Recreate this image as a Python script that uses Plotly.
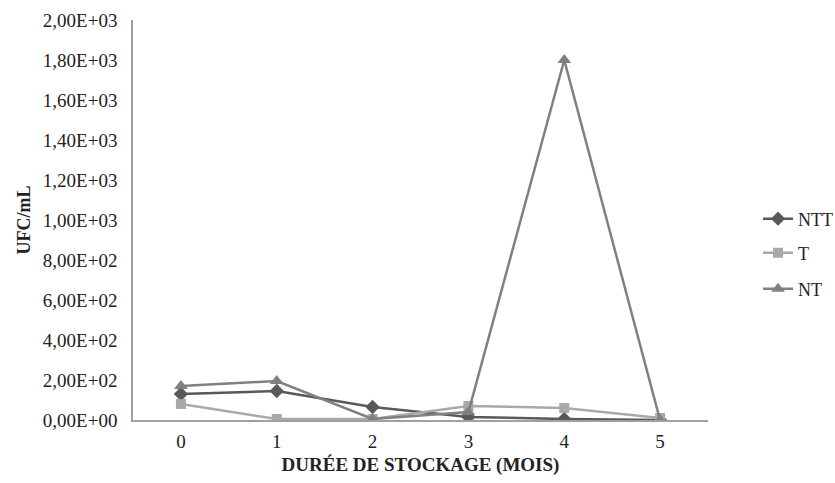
import plotly.graph_objects as go

# Storage duration (months) and counts per sample type
months = [0, 1, 2, 3, 4, 5]
ntt = [130, 145, 65, 15, 5, 0]
t_vals = [80, 5, 5, 70, 60, 10]
nt = [170, 195, 5, 40, 1800, 0]

y_ticks = [0, 200, 400, 600, 800, 1000, 1200, 1400, 1600, 1800, 2000]
y_tick_text = ["0,00E+00", "2,00E+02", "4,00E+02", "6,00E+02", "8,00E+02",
               "1,00E+03", "1,20E+03", "1,40E+03", "1,60E+03", "1,80E+03",
               "2,00E+03"]

FONT = "Liberation Serif"
TXT = "#222222"

fig = go.Figure()
fig.add_trace(go.Scatter(
    x=months, y=ntt, name="NTT", mode="lines+markers",
    line=dict(color="#595959", width=2.5),
    marker=dict(symbol="diamond", size=11, color="#595959"),
    legend="legend",
))
fig.add_trace(go.Scatter(
    x=months, y=t_vals, name="T", mode="lines+markers",
    line=dict(color="#a9a9a9", width=2.5),
    marker=dict(symbol="square", size=10, color="#a9a9a9"),
    legend="legend2",
))
fig.add_trace(go.Scatter(
    x=months, y=nt, name="NT", mode="lines+markers",
    line=dict(color="#808080", width=2.5),
    marker=dict(symbol="triangle-up", size=12, color="#808080"),
    legend="legend3",
))

legend_common = dict(
    font=dict(family=FONT, size=18, color=TXT),
    bgcolor="rgba(0,0,0,0)",
    xanchor="left", yanchor="middle", xref="paper", yref="paper",
    itemwidth=30, x=1.087,
)

fig.update_layout(
    width=835, height=483,
    margin=dict(l=133, r=127, t=20, b=63, autoexpand=False),
    paper_bgcolor="white", plot_bgcolor="white",
    font=dict(family=FONT, size=18, color=TXT),
    showlegend=True,
    legend=dict(y=(219 - 420) / -400, **legend_common),
    legend2=dict(y=(253 - 420) / -400, **legend_common),
    legend3=dict(y=(289 - 420) / -400, **legend_common),
    xaxis=dict(
        range=[-0.5, 5.5], tickvals=months, ticktext=[str(m) for m in months],
        showgrid=False, zeroline=False, showline=True, linecolor="#a0a0a0",
        linewidth=1.5, ticks="", ticklabelstandoff=3, automargin=False,
        title=dict(text="<b>DURÉE DE STOCKAGE (MOIS)</b>", standoff=7,
                   font=dict(family=FONT, size=19, color=TXT)),
        tickfont=dict(family=FONT, size=19, color=TXT),
    ),
    yaxis=dict(
        range=[0, 2000], tickvals=y_ticks, ticktext=y_tick_text,
        showgrid=False, zeroline=False, showline=True, linecolor="#a0a0a0",
        linewidth=1.5, ticks="", ticklabelstandoff=10, automargin=False,
        title=dict(text="<b>UFC/mL</b>", standoff=8,
                   font=dict(family=FONT, size=18, color=TXT)),
        tickfont=dict(family=FONT, size=19, color=TXT),
    ),
)

fig.write_html("out.html")
